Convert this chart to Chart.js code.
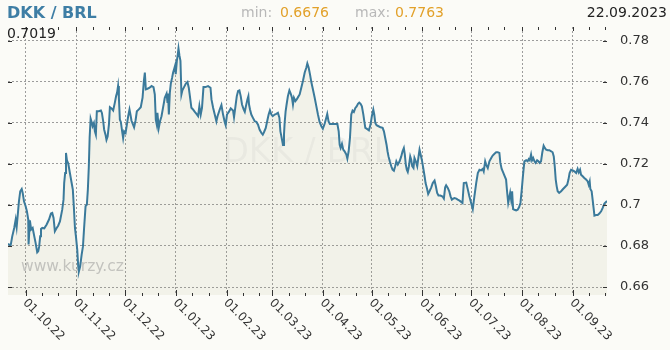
<!DOCTYPE html>
<html>
<head>
<meta charset="utf-8">
<script src="https://cdn.jsdelivr.net/npm/chart.js@4.4.0/dist/chart.umd.min.js"></script>
<style>
    html, body { margin: 0; padding: 0; background: #fbfbf7; }
    #wrap { position: relative; width: 670px; height: 350px; }
</style>
</head>
<body>
<div id="wrap"><canvas id="rateChart"></canvas></div>
<script>
const pairName = 'DKK / BRL';
const siteName = 'www.kurzy.cz';
const lastDate = '22.09.2023';
const lastRate = '0.7019';
const minRate = '0.6676';
const maxRate = '0.7763';

// days counted from 01.10.2022
const days = [
    -10.8, -9.2, -8.2, -7.0, -6.1, -5.5, -4.9, -4.1, -3.3, -2.4, -1.8, -1.0,
    0, 0.8, 1.6, 1.8, 2.6, 3.4, 4.3, 5.3, 6.1, 7.1, 7.7, 8.3, 8.9, 9.4, 10.2, 11.4,
    12.8, 14.3, 15.5, 16.3, 17.1, 17.9, 19.0, 19.9, 21.0, 22.4, 23.2, 23.6, 24.2, 24.7,
    25.3, 26.1, 27.1, 28.1, 28.9, 29.5, 30.2, 30.8, 31.6, 32.2, 32.6, 33.4, 34.3, 35.1,
    35.8, 36.7, 37.5, 38.1, 38.7, 39.2, 39.8, 40.4, 41.0, 41.8, 42.4, 43.0, 43.6, 44.8,
    46.1, 46.7, 47.5, 48.1, 48.9, 49.5, 50.2, 51.0, 51.6, 52.6, 53.6, 54.6, 55.4, 56.0,
    56.6, 57.1, 57.7, 58.3, 59.1, 59.7, 60.3, 61.2, 62.0, 62.8, 63.6, 64.2, 64.8, 65.6,
    66.4, 67.3, 68.1, 69.3, 70.5, 71.6, 72.4, 73.0, 73.6, 74.6, 75.9, 77.1, 78.3, 79.1,
    79.7, 80.3, 80.7, 81.5, 82.3, 83.2, 84.2, 85.2, 86.3, 86.9, 87.2, 87.7, 88.3, 88.9,
    89.7, 90.3, 90.9, 91.5, 91.9, 92.6, 93.2, 93.6, 94.2, 94.8, 95.4, 96.0, 97.0, 98.1,
    99.1, 99.9, 100.7, 101.5, 102.5, 103.6, 104.6, 105.6, 106.4, 107.2, 108.0, 108.9, 110.1, 111.7,
    113.2, 113.8, 114.8, 115.8, 116.8, 117.5, 118.9, 119.9, 120.9, 121.9, 122.5, 123.3, 124.4, 125.6,
    127.0, 127.6, 128.5, 129.3, 130.1, 130.9, 131.7, 132.5, 133.5, 134.2, 134.9, 135.8, 136.4, 136.8,
    137.4, 138.2, 139.2, 140.3, 141.3, 142.3, 143.3, 144.4, 145.2, 146.0, 147.0, 148.0, 148.8, 149.6,
    150.5, 151.3, 152.5, 153.5, 154.5, 155.4, 156.0, 156.4, 157.0, 157.6, 158.2, 158.6, 159.2, 159.8,
    160.6, 161.5, 162.3, 163.1, 163.7, 164.3, 165.2, 166.0, 166.8, 167.8, 168.8, 169.8, 170.9, 171.9,
    172.5, 173.3, 174.1, 175.0, 175.9, 177.0, 178.0, 179.0, 180.0, 181.1, 182.0, 183.1, 184.1, 184.7,
    185.5, 186.3, 188.2, 190.9, 191.7, 192.3, 192.9, 193.7, 194.5, 195.3, 196.4, 197.0, 197.8, 198.6,
    199.4, 200.2, 201.0, 201.9, 202.7, 203.5, 204.3, 205.1, 205.9, 206.8, 207.4, 208.0, 209.0, 210.2,
    211.2, 212.0, 212.9, 213.5, 214.1, 214.9, 216.1, 217.3, 218.6, 219.4, 220.2, 221.0, 221.6, 222.2,
    223.0, 223.9, 224.7, 225.5, 226.3, 227.0, 227.9, 229.0, 230.0, 230.8, 231.6, 232.2, 232.8, 233.4,
    234.0, 234.7, 235.5, 236.1, 236.7, 237.5, 238.1, 238.9, 239.8, 240.6, 241.2, 241.8, 242.6, 243.5,
    244.3, 244.9, 245.7, 246.5, 247.3, 248.4, 249.3, 250.4, 251.2, 252.0, 252.8, 254.0, 255.3, 256.1,
    256.9, 257.5, 258.5, 259.4, 260.2, 261.0, 261.8, 262.6, 263.7, 264.6, 265.7, 266.7, 267.5, 268.3,
    269.8, 270.8, 271.6, 272.8, 273.8, 274.8, 275.9, 276.9, 277.9, 278.9, 279.9, 280.5, 281.4, 282.0,
    283.0, 284.0, 285.1, 286.0, 287.1, 288.1, 289.1, 290.1, 290.7, 291.5, 292.4, 293.2, 294.2, 294.8,
    295.5, 296.1, 296.7, 297.3, 297.9, 298.5, 299.3, 300.4, 301.3, 302.2, 303.0, 303.8, 304.6, 305.4,
    306.5, 307.4, 308.1, 308.7, 309.5, 310.1, 310.8, 311.6, 312.3, 313.2, 314.0, 314.8, 315.6, 316.4,
    317.2, 317.9, 318.7, 319.7, 320.7, 321.8, 322.7, 323.4, 324.0, 324.6, 325.2, 325.8, 326.7, 327.9,
    329.1, 330.3, 331.6, 332.4, 333.1, 334.0, 335.0, 336.0, 337.1, 338.0, 338.7, 339.5, 340.1, 341.1,
    342.1, 343.2, 344.2, 344.8, 345.4, 345.8, 346.6, 347.2, 347.8, 348.3, 349.3, 350.3, 351.3, 352.4,
    353.3, 354.4, 356.0
];

const rates = [
    0.6811, 0.6802, 0.6847, 0.6888, 0.6929, 0.6893, 0.6945, 0.7018, 0.7067, 0.7078, 0.7059, 0.7018,
    0.6994, 0.6969, 0.6929, 0.6807, 0.6925, 0.6880, 0.6888, 0.6847, 0.6815, 0.6769, 0.6774, 0.6798, 0.6847, 0.6883, 0.6888, 0.6886,
    0.6904, 0.6929, 0.6958, 0.6961, 0.6937, 0.6872, 0.6888, 0.6899, 0.6920, 0.6977, 0.7026, 0.7107, 0.7156, 0.7254,
    0.7218, 0.7202, 0.7156, 0.7111, 0.7075, 0.6994, 0.6888, 0.6847, 0.6782, 0.6701, 0.6676, 0.6701, 0.6758, 0.6798,
    0.6888, 0.6994, 0.7002, 0.7075, 0.7189, 0.7330, 0.7421, 0.7405, 0.7384, 0.7400, 0.7359, 0.7343, 0.7457, 0.7457,
    0.7461, 0.7449, 0.7408, 0.7367, 0.7343, 0.7318, 0.7334, 0.7392, 0.7477, 0.7471, 0.7461, 0.7498, 0.7531, 0.7548,
    0.7580, 0.7523, 0.7416, 0.7405, 0.7359, 0.7326, 0.7359, 0.7351, 0.7392, 0.7433, 0.7466, 0.7441, 0.7412, 0.7395,
    0.7379, 0.7412, 0.7457, 0.7466, 0.7477, 0.7523, 0.7605, 0.7646, 0.7564, 0.7567, 0.7572, 0.7580, 0.7575, 0.7539,
    0.7416, 0.7392, 0.7449, 0.7375, 0.7408, 0.7433, 0.7477, 0.7523, 0.7543, 0.7498, 0.7543, 0.7441, 0.7548, 0.7592,
    0.7621, 0.7646, 0.7662, 0.7679, 0.7638, 0.7703, 0.7736, 0.7763, 0.7728, 0.7703, 0.7539, 0.7559, 0.7575, 0.7592,
    0.7600, 0.7572, 0.7523, 0.7474, 0.7466, 0.7454, 0.7444, 0.7433, 0.7482, 0.7441, 0.7474, 0.7575, 0.7575, 0.7580,
    0.7572, 0.7515, 0.7474, 0.7441, 0.7408, 0.7433, 0.7466, 0.7487, 0.7441, 0.7405, 0.7389, 0.7441, 0.7454, 0.7471,
    0.7461, 0.7428, 0.7482, 0.7531, 0.7556, 0.7559, 0.7531, 0.7490, 0.7466, 0.7454, 0.7482, 0.7515, 0.7531, 0.7490,
    0.7466, 0.7441, 0.7425, 0.7408, 0.7405, 0.7392, 0.7367, 0.7351, 0.7343, 0.7356, 0.7375, 0.7412, 0.7441, 0.7461,
    0.7441, 0.7433, 0.7441, 0.7444, 0.7449, 0.7425, 0.7359, 0.7343, 0.7318, 0.7293, 0.7343, 0.7400, 0.7457, 0.7490,
    0.7531, 0.7559, 0.7543, 0.7523, 0.7490, 0.7523, 0.7507, 0.7515, 0.7526, 0.7539, 0.7572, 0.7605, 0.7646, 0.7670,
    0.7690, 0.7670, 0.7638, 0.7597, 0.7564, 0.7523, 0.7482, 0.7441, 0.7405, 0.7384, 0.7372, 0.7396, 0.7425, 0.7444,
    0.7408, 0.7395, 0.7395, 0.7395, 0.7359, 0.7294, 0.7278, 0.7298, 0.7270, 0.7262, 0.7246, 0.7226, 0.7262, 0.7327,
    0.7441, 0.7460, 0.7454, 0.7473, 0.7481, 0.7493, 0.7499, 0.7493, 0.7481, 0.7441, 0.7408, 0.7376, 0.7371, 0.7364,
    0.7392, 0.7433, 0.7465, 0.7441, 0.7400, 0.7389, 0.7384, 0.7379, 0.7376, 0.7359, 0.7327, 0.7294, 0.7262, 0.7237,
    0.7213, 0.7189, 0.7172, 0.7167, 0.7189, 0.7213, 0.7197, 0.7213, 0.7237, 0.7262, 0.7278, 0.7246, 0.7197, 0.7172,
    0.7161, 0.7189, 0.7237, 0.7221, 0.7189, 0.7180, 0.7229, 0.7213, 0.7189, 0.7237, 0.7270, 0.7249, 0.7221, 0.7180,
    0.7140, 0.7107, 0.7083, 0.7054, 0.7067, 0.7086, 0.7107, 0.7119, 0.7091, 0.7059, 0.7046, 0.7046, 0.7041, 0.7031,
    0.7086, 0.7096, 0.7083, 0.7067, 0.7042, 0.7026, 0.7031, 0.7034, 0.7031, 0.7026, 0.7021, 0.7015, 0.7010, 0.7107,
    0.7109, 0.7075, 0.7046, 0.7010, 0.6980, 0.7042, 0.7107, 0.7156, 0.7172, 0.7169, 0.7176, 0.7164, 0.7213, 0.7197,
    0.7180, 0.7213, 0.7229, 0.7241, 0.7250, 0.7257, 0.7257, 0.7254, 0.7205, 0.7176, 0.7159, 0.7143, 0.7124, 0.7067,
    0.7010, 0.7034, 0.7059, 0.7026, 0.7067, 0.6980, 0.6977, 0.6974, 0.6977, 0.6990, 0.7010, 0.7075, 0.7148, 0.7213,
    0.7218, 0.7213, 0.7224, 0.7218, 0.7246, 0.7218, 0.7229, 0.7213, 0.7205, 0.7218, 0.7213, 0.7205, 0.7213, 0.7257,
    0.7289, 0.7278, 0.7270, 0.7267, 0.7267, 0.7262, 0.7257, 0.7237, 0.7189, 0.7124, 0.7091, 0.7067, 0.7059, 0.7067,
    0.7078, 0.7088, 0.7099, 0.7124, 0.7156, 0.7172, 0.7169, 0.7164, 0.7156, 0.7176, 0.7159, 0.7172, 0.7148, 0.7140,
    0.7132, 0.7124, 0.7115, 0.7099, 0.7115, 0.7078, 0.7067, 0.7026, 0.6985, 0.6948, 0.6951, 0.6951, 0.6958, 0.6969,
    0.6985, 0.7007, 0.7019
];

const monthDays = [0, 31, 61, 92, 123, 151, 182, 212, 243, 273, 304, 335];
const monthLabels = ['01.10.22', '01.11.22', '01.12.22', '01.01.23', '01.02.23', '01.03.23',
    '01.04.23', '01.05.23', '01.06.23', '01.07.23', '01.08.23', '01.09.23'];
const yTicks = [0.66, 0.68, 0.7, 0.72, 0.74, 0.76, 0.78];

const FONT = '"DejaVu Sans", Verdana, sans-serif';

// watermarks, tick marks, rotated date labels and the header line
const decorations = {
    id: 'decorations',
    beforeDatasetsDraw(chart) {
        const { ctx, chartArea } = chart;
        ctx.save();
        ctx.fillStyle = 'rgba(0, 0, 0, 0.045)';
        ctx.font = '34px ' + FONT;
        ctx.textAlign = 'center';
        ctx.textBaseline = 'alphabetic';
        ctx.fillText(pairName, (chartArea.left + chartArea.right) / 2, 162);

        ctx.fillStyle = '#c6c6c6';
        ctx.font = '15.5px ' + FONT;
        ctx.textAlign = 'left';
        ctx.fillText(siteName, 21, 271);
        ctx.restore();
    },
    afterDraw(chart) {
        const { ctx, chartArea, scales } = chart;
        const { top, bottom, left, right } = chartArea;
        ctx.save();

        // tick marks
        ctx.strokeStyle = '#333';
        ctx.lineWidth = 1;
        ctx.beginPath();
        yTicks.forEach(v => {
            const py = Math.round(scales.y.getPixelForValue(v)) + 0.5;
            ctx.moveTo(left, py); ctx.lineTo(left + 4, py);
            ctx.moveTo(right - 4, py); ctx.lineTo(right, py);
        });
        monthDays.forEach(d => {
            const px = Math.round(scales.x.getPixelForValue(d)) + 0.5;
            ctx.moveTo(px, bottom - 5); ctx.lineTo(px, bottom + 1);
            ctx.moveTo(px, top); ctx.lineTo(px, top + 4);
            [10, 20].forEach(off => {
                if (d + off > scales.x.max) return;
                const mx = Math.round(scales.x.getPixelForValue(d + off)) + 0.5;
                ctx.moveTo(mx, bottom - 2); ctx.lineTo(mx, bottom + 1);
                ctx.moveTo(mx, top); ctx.lineTo(mx, top + 3);
            });
        });
        ctx.stroke();

        // rotated date labels
        ctx.fillStyle = '#333';
        ctx.font = '12px ' + FONT;
        ctx.textAlign = 'left';
        ctx.textBaseline = 'middle';
        monthDays.forEach((d, i) => {
            const px = scales.x.getPixelForValue(d);
            ctx.save();
            ctx.translate(px - 1, bottom + 6);
            ctx.rotate(Math.PI / 4);
            ctx.fillText(monthLabels[i], 0, 0);
            ctx.restore();
        });

        // header
        ctx.textBaseline = 'alphabetic';
        ctx.fillStyle = '#3e7ea5';
        ctx.font = 'bold 16px ' + FONT;
        ctx.fillText(pairName, 7, 18);

        ctx.font = '14px ' + FONT;
        ctx.fillStyle = '#b8b8b8';
        ctx.fillText('min:', 241, 17);
        ctx.fillText('max:', 355, 17);
        ctx.fillStyle = '#e2a12a';
        ctx.fillText(minRate, 280, 17);
        ctx.fillText(maxRate, 395, 17);

        ctx.fillStyle = '#222';
        ctx.textAlign = 'right';
        ctx.fillText(lastDate, 667, 17);
        ctx.textAlign = 'left';
        ctx.fillText(lastRate, 7, 38);
        ctx.restore();
    }
};

const RateChart = {
    init() {
        const ctx = document.getElementById('rateChart').getContext('2d');
        const gridStyle = { color: '#9c9c9c', lineWidth: 1, drawTicks: false };
        const borderStyle = { display: false, dash: [2, 2] };

        new Chart(ctx, {
            type: 'line',
            data: {
                datasets: [{
                    data: days.map((d, i) => ({ x: d, y: rates[i] })),
                    borderColor: '#3b7a9b',
                    borderWidth: 2,
                    backgroundColor: 'rgba(170, 170, 120, 0.1)',
                    fill: 'start',
                    pointRadius: 0,
                    tension: 0
                }]
            },
            options: {
                responsive: true,
                maintainAspectRatio: false,
                animation: false,
                layout: { padding: { top: 27, left: 8, right: 0, bottom: 0 } },
                plugins: {
                    legend: { display: false },
                    tooltip: { enabled: false }
                },
                scales: {
                    x: {
                        type: 'linear',
                        min: -10.8,
                        max: 356,
                        afterBuildTicks: scale => { scale.ticks = monthDays.map(v => ({ value: v })); },
                        afterFit: scale => { scale.height = 55; },
                        ticks: { display: false },
                        grid: gridStyle,
                        border: borderStyle
                    },
                    y: {
                        position: 'right',
                        min: 0.6561,
                        max: 0.7868,
                        afterBuildTicks: scale => { scale.ticks = yTicks.map(v => ({ value: v })); },
                        afterFit: scale => { scale.width = 63; },
                        ticks: {
                            padding: 13,
                            color: '#333',
                            font: { family: FONT, size: 13 },
                            callback: v => String(v)
                        },
                        grid: gridStyle,
                        border: borderStyle
                    }
                }
            },
            plugins: [decorations]
        });
    }
};

RateChart.init();
</script>
</body>
</html>
